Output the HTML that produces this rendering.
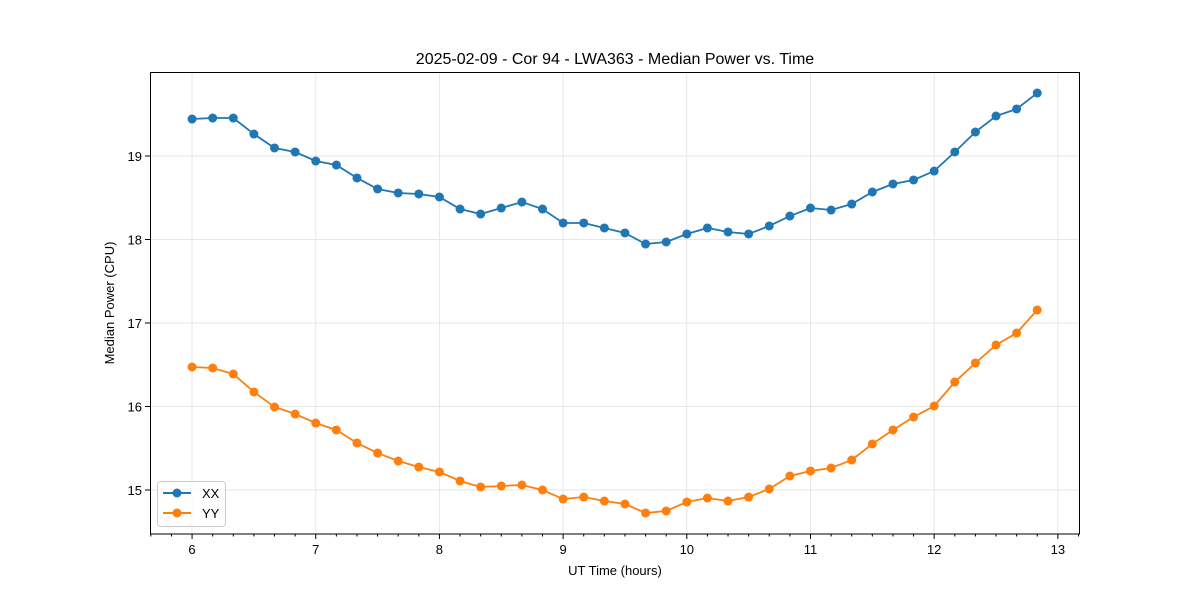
<!DOCTYPE html>
<html><head><meta charset="utf-8"><style>
html,body{margin:0;padding:0;background:#fff;}
svg{display:block;font-family:"Liberation Sans","DejaVu Sans",sans-serif;}
</style></head><body>
<svg id="chart" width="1200" height="600">
<text x="615" y="64" text-anchor="middle" font-size="16">2025-02-09 - Cor 94 - LWA363 - Median Power vs. Time</text>
<g id="grid"></g>
<g id="series"></g>
<rect x="150.5" y="72.5" width="929" height="461.5" fill="none" stroke="#000" stroke-width="1"/>
<g id="axes"></g>
<text x="615" y="575" text-anchor="middle" font-size="13">UT Time (hours)</text>
<text transform="translate(114,303) rotate(-90)" text-anchor="middle" font-size="13">Median Power (CPU)</text>
<g>
<rect x="157.5" y="481.5" width="68" height="45" rx="3" fill="#fff" fill-opacity="0.8" stroke="#ccc"/>
<g><line x1="163" y1="493" x2="191" y2="493" stroke="#1f77b4" stroke-width="2"/><circle cx="177" cy="493" r="4.5" fill="#1f77b4"/><text x="202" y="498" font-size="13">XX</text></g>
<g><line x1="163" y1="513" x2="191" y2="513" stroke="#ff7f0e" stroke-width="2"/><circle cx="177" cy="513" r="4.5" fill="#ff7f0e"/><text x="202" y="518" font-size="13">YY</text></g>
</g>
</svg>
<script>
const xxValues=[19.443,19.455,19.455,19.263,19.096,19.048,18.940,18.892,18.737,18.605,18.557,18.545,18.509,18.365,18.305,18.377,18.449,18.365,18.198,18.198,18.138,18.078,17.946,17.970,18.066,18.138,18.090,18.066,18.162,18.281,18.377,18.353,18.425,18.569,18.665,18.713,18.820,19.048,19.287,19.479,19.563,19.754];
const yyValues=[16.473,16.461,16.389,16.174,15.994,15.910,15.802,15.719,15.563,15.443,15.347,15.275,15.216,15.108,15.036,15.048,15.060,15.000,14.892,14.916,14.868,14.832,14.725,14.749,14.856,14.904,14.868,14.916,15.012,15.168,15.228,15.263,15.359,15.551,15.719,15.874,16.006,16.293,16.521,16.737,16.880,17.156];
const times=xxValues.map((_,i)=>6+i/6);
const xTickLabels=[6,7,8,9,10,11,12,13];
const yTickLabels=[15,16,17,18,19];
const NS='http://www.w3.org/2000/svg';
const X0=150,X1=1080,Y0=534,Y1=72;
const xMin=5.660,xMax=13.179,yMin=14.473,yMax=20.006;
function sx(v){return X0+(v-xMin)/(xMax-xMin)*(X1-X0);}
function sy(v){return Y0-(v-yMin)/(yMax-yMin)*(Y0-Y1);}
function mk(tag,attrs,parent){const e=document.createElementNS(NS,tag);for(const k in attrs)e.setAttribute(k,attrs[k]);parent.appendChild(e);return e;}
const grid=document.getElementById('grid'),axes=document.getElementById('axes'),series=document.getElementById('series');
xTickLabels.forEach(t=>{const x=sx(t);
 const g=mk('line',{x1:x,x2:x,y1:Y1,y2:Y0,stroke:'#e6e6e6','stroke-width':1},grid);
 
 mk('line',{x1:x,x2:x,y1:Y0,y2:Y0+5,stroke:'#000'},axes);
 const tx=mk('text',{x:x,y:Y0+20,'text-anchor':'middle','font-size':13},axes);tx.textContent=t;
 });
for(let m=Math.ceil(xMin*6);m<=xMax*6;m++){if(m%6===0)continue;const x=sx(m/6);mk('line',{x1:x,x2:x,y1:Y0,y2:Y0+2.5,stroke:'#000'},axes);}
yTickLabels.forEach(t=>{const y=sy(t);
 const g=mk('line',{x1:X0,x2:X1,y1:y,y2:y,stroke:'#e6e6e6','stroke-width':1},grid);
 
 mk('line',{x1:X0-5,x2:X0,y1:y,y2:y,stroke:'#000'},axes);
 const tx=mk('text',{x:X0-8,y:y+5,'text-anchor':'end','font-size':13},axes);tx.textContent=t;
 });
function draw(vals,color,name){
 const p=mk('polyline',{points:vals.map((v,i)=>sx(times[i])+','+sy(v)).join(' '),fill:'none',stroke:color,'stroke-width':1.8},series);
 
 vals.forEach((v,i)=>{const c=mk('circle',{cx:sx(times[i]),cy:sy(v),r:4.5,fill:color},series);
 });
}
draw(xxValues,'#1f77b4','xx');
draw(yyValues,'#ff7f0e','yy');
</script>
</body></html>
